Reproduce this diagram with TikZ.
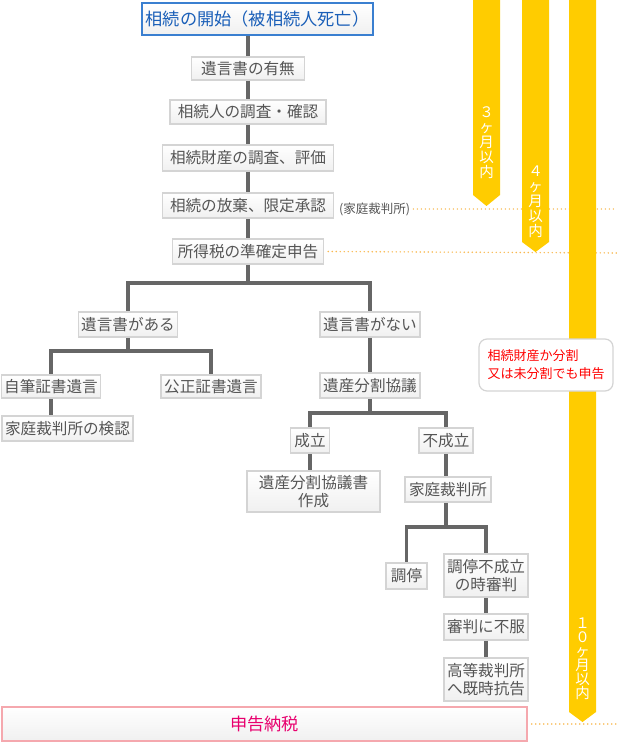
\documentclass[tikz,border=0pt]{standalone}
\usepackage{fontspec}
\setmainfont{Noto Sans CJK JP}
\definecolor{boxline}{HTML}{D4D4D4}
\definecolor{boxbot}{HTML}{F0F0F0}
\definecolor{boxtext}{HTML}{555555}
\definecolor{linegray}{HTML}{666666}
\definecolor{topblue}{HTML}{3A7FD0}
\definecolor{toptext}{HTML}{1A5FB8}
\definecolor{pinkline}{HTML}{F5A8AE}
\definecolor{pinktext}{HTML}{E8006E}
\definecolor{baryellow}{HTML}{FFCC00}
\definecolor{dotorange}{HTML}{F8B850}
\definecolor{notered}{HTML}{FF0000}
\begin{document}
\begin{tikzpicture}[x=1pt,y=-1pt,
  box/.style={draw=boxline, line width=1.5pt, top color=white, bottom color=boxbot,
    text=boxtext, font=\fontsize{15.6}{18}\selectfont, inner sep=0pt, align=center},
  sz/.style 2 args={minimum width=#1pt, minimum height=#2pt},
  conn/.style={draw=linegray, line width=3.5pt},
  dotline/.style={draw=dotorange, line width=1.6pt, line cap=round, dash pattern=on 0pt off 4pt},
  bartext/.style={text=white, font=\fontsize{14.5}{15}\selectfont, align=center, inner sep=0pt},
]
\useasboundingbox (0,0) rectangle (617,743);

% dotted guide lines
\node[text=boxtext, font=\fontsize{12.5}{14}\selectfont, anchor=west, inner sep=0pt] (note) at (339,209) {(家庭裁判所)};
\coordinate (d1) at (617,209);
\coordinate (d2) at (617,253);
\coordinate (d3) at (617,724);

% main nodes
\node[box, sz={231}{32}, draw=topblue, text=toptext, font=\fontsize{17.2}{20}\selectfont] (top) at (257.5,19) {相続の開始（被相続人死亡）};
\node[box, sz={113}{23}] (yuigon) at (248,68.5) {遺言書の有無};
\node[box, sz={156}{24}] (chosa) at (248,112) {相続人の調査・確認};
\node[box, sz={171}{26}] (zaisan) at (248,158) {相続財産の調査、評価};
\node[box, sz={171}{25}] (hoki) at (248,205.5) {相続の放棄、限定承認};
\node[box, sz={151}{25}] (shotoku) at (248,251.5) {所得税の準確定申告};

\node[box, sz={99}{25}] (aru) at (128,324.5) {遺言書がある};
\node[box, sz={100}{25}] (nai) at (370,324.5) {遺言書がない};
\node[box, sz={99}{23}] (jihitsu) at (51,386.5) {自筆証書遺言};
\node[box, sz={100}{23}] (kosei) at (211,386.5) {公正証書遺言};
\node[box, sz={131}{25}] (kenin) at (67.5,428.5) {家庭裁判所の検認};

\node[box, sz={100}{25}] (kyogi) at (370,385.5) {遺産分割協議};
\node[box, sz={39}{25}] (seiritsu) at (310,440.5) {成立};
\node[box, sz={54}{25}] (fuseiritsu) at (446,440.5) {不成立};
\node[box, sz={133}{41}] (kyogisho) at (313.5,491.5) {遺産分割協議書\\作成};
\node[box, sz={86}{25}] (saiban) at (448,489.5) {家庭裁判所};
\node[box, sz={41}{26}] (chotei) at (406.5,576) {調停};
\node[box, sz={84}{43}] (shinpan) at (486,575.5) {調停不成立\\の時審判};
\node[box, sz={84}{26}] (fufuku) at (486,627) {審判に不服};
\node[box, sz={84}{43}] (kokoku) at (486,679.5) {高等裁判所\\へ既時抗告};

\node[box, sz={525}{34}, draw=pinkline, text=pinktext, font=\fontsize{17.2}{20}\selectfont] (shinkoku) at (264.5,724) {申告納税};

% dotted lines
\draw[dotline] ([xshift=3pt]note.east) -- (d1);
\draw[dotline] ([xshift=4pt]shotoku.east) -- (d2);
\draw[dotline] ([xshift=4pt]shinkoku.east) -- (d3);

% yellow deadline bars
\fill[baryellow] (473,0) -- (473,195) -- (486.5,206) -- (500,195) -- (500,0) -- cycle;
\fill[baryellow] (522,0) -- (522,242) -- (535.5,252) -- (549,242) -- (549,0) -- cycle;
\fill[baryellow] (569,0) -- (569,712) -- (582.5,722) -- (596,712) -- (596,0) -- cycle;
\node[bartext] (t3) at (486.5,143) {３\\ヶ\\月\\以\\内};
\node[bartext] (t4) at (535.5,202) {４\\ヶ\\月\\以\\内};
\node[bartext, font=\fontsize{14.5}{14}\selectfont] (t10) at (582.5,659) {１\\０\\ヶ\\月\\以\\内};

% note box
\node[draw=boxline, line width=1.2pt, fill=white, rounded corners=8pt, minimum width=134pt, minimum height=52pt,
  text=notered, font=\fontsize{13}{18}\selectfont, align=left, inner sep=0pt] (memo) at (546,365) {相続財産か分割\\又は未分割でも申告};

% connectors
\coordinate (j1) at (248,283);
\coordinate (j2) at (128,351);
\coordinate (j3) at (370,413);
\coordinate (j4) at (448,527);
\draw[conn] (top.south -| yuigon.north) -- (yuigon.north);
\draw[conn] (yuigon.south) -- (chosa.north);
\draw[conn] (chosa.south) -- (zaisan.north);
\draw[conn] (zaisan.south) -- (hoki.north);
\draw[conn] (hoki.south) -- (shotoku.north);
\draw[conn] (shotoku.south) -- (j1);
\draw[conn] (j1) -| (aru.north);
\draw[conn] (j1) -| (nai.north);
\draw[conn] (aru.south) -- (j2);
\draw[conn] (j2) -| (jihitsu.north);
\draw[conn] (j2) -| (kosei.north);
\draw[conn] (jihitsu.south) -- (jihitsu.south |- kenin.north);
\draw[conn] (nai.south) -- (kyogi.north);
\draw[conn] (kyogi.south) -- (j3);
\draw[conn] (j3) -| (seiritsu.north);
\draw[conn] (j3) -| (fuseiritsu.north);
\draw[conn] (seiritsu.south) -- (seiritsu.south |- kyogisho.north);
\draw[conn] (fuseiritsu.south) -- (fuseiritsu.south |- saiban.north);
\draw[conn] (saiban.south -| fuseiritsu.south) -- (j4 -| fuseiritsu.south);
\draw[conn] (j4 -| fuseiritsu.south) -| (chotei.north);
\draw[conn] (j4 -| fuseiritsu.south) -| (shinpan.north);
\draw[conn] (shinpan.south) -- (fufuku.north);
\draw[conn] (fufuku.south) -- (kokoku.north);
\end{tikzpicture}
\end{document}
